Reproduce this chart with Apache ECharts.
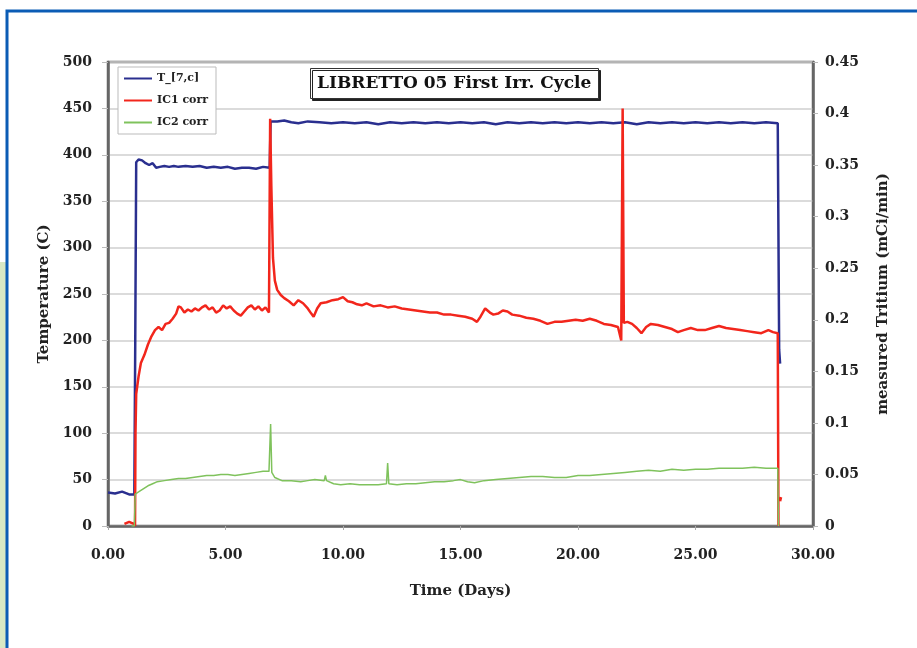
<!DOCTYPE html>
<html>
<head>
<meta charset="utf-8">
<script src="https://cdn.jsdelivr.net/npm/echarts@6/dist/echarts.min.js"></script>
<style>
  html, body { margin: 0; padding: 0; background: #fff; }
  #chart { width: 917px; height: 648px; }
</style>
</head>
<body>
<div id="chart"></div>
<script>
// values: [day, value]
const tempData = [
    [0, 36], [0.3, 35], [0.6, 37], [0.9, 34], [1.12, 34], [1.16, 200], [1.2, 392], [1.3, 395],
    [1.45, 394], [1.6, 391], [1.75, 389], [1.9, 391], [2.05, 386], [2.2, 387], [2.4, 388],
    [2.6, 387], [2.8, 388], [3.0, 387], [3.3, 388], [3.6, 387], [3.9, 388], [4.2, 386],
    [4.5, 387], [4.8, 386], [5.1, 387], [5.4, 385], [5.7, 386], [6.0, 386], [6.3, 385],
    [6.6, 387], [6.88, 386], [6.92, 436], [7.0, 437], [7.2, 436], [7.5, 437], [7.8, 435],
    [8.1, 434], [8.5, 436], [9.0, 435], [9.5, 434], [10.0, 435], [10.5, 434], [11.0, 435],
    [11.5, 433], [12.0, 435], [12.5, 434], [13.0, 435], [13.5, 434], [14.0, 435], [14.5, 434],
    [15.0, 435], [15.5, 434], [16.0, 435], [16.5, 433], [17.0, 435], [17.5, 434], [18.0, 435],
    [18.5, 434], [19.0, 435], [19.5, 434], [20.0, 435], [20.5, 434], [21.0, 435], [21.5, 434],
    [22.0, 435], [22.5, 433], [23.0, 435], [23.5, 434], [24.0, 435], [24.5, 434], [25.0, 435],
    [25.5, 434], [26.0, 435], [26.5, 434], [27.0, 435], [27.5, 434], [28.0, 435], [28.5, 434],
    [28.53, 434], [28.56, 190], [28.6, 175]
];

const ic1Data = [
    [0.7, 0.002], [0.9, 0.004], [1.1, 0.002], [1.15, 0.0], [1.17, 0.09], [1.2, 0.128], [1.3, 0.145],
    [1.4, 0.158], [1.55, 0.166], [1.7, 0.176], [1.85, 0.184], [2.0, 0.19], [2.15, 0.193], [2.3, 0.19],
    [2.45, 0.196], [2.6, 0.197], [2.75, 0.201], [2.9, 0.206], [3.0, 0.213], [3.1, 0.212], [3.25, 0.207],
    [3.4, 0.21], [3.55, 0.208], [3.7, 0.211], [3.85, 0.209], [4.0, 0.212], [4.15, 0.214], [4.3, 0.21],
    [4.45, 0.212], [4.6, 0.207], [4.75, 0.209], [4.9, 0.214], [5.05, 0.211], [5.2, 0.213], [5.35, 0.209],
    [5.5, 0.206], [5.65, 0.204], [5.8, 0.208], [5.95, 0.212], [6.1, 0.214], [6.25, 0.21], [6.4, 0.213],
    [6.55, 0.209], [6.7, 0.212], [6.85, 0.207], [6.9, 0.395], [6.95, 0.33], [7.02, 0.26], [7.1, 0.238],
    [7.2, 0.229], [7.35, 0.224], [7.5, 0.221], [7.7, 0.218], [7.9, 0.214], [8.1, 0.219], [8.3, 0.216],
    [8.5, 0.211], [8.65, 0.206], [8.75, 0.203], [8.9, 0.211], [9.05, 0.216], [9.3, 0.217], [9.55, 0.219],
    [9.8, 0.22], [10.0, 0.222], [10.2, 0.218], [10.4, 0.217], [10.6, 0.215], [10.8, 0.214], [11.0, 0.216],
    [11.3, 0.213], [11.6, 0.214], [11.9, 0.212], [12.2, 0.213], [12.5, 0.211], [12.8, 0.21], [13.1, 0.209],
    [13.4, 0.208], [13.7, 0.207], [14.0, 0.207], [14.3, 0.205], [14.6, 0.205], [14.9, 0.204], [15.2, 0.203],
    [15.5, 0.201], [15.7, 0.198], [15.85, 0.203], [16.05, 0.211], [16.25, 0.207], [16.4, 0.205], [16.6, 0.206],
    [16.8, 0.209], [17.0, 0.208], [17.2, 0.205], [17.5, 0.204], [17.8, 0.202], [18.1, 0.201], [18.4, 0.199],
    [18.7, 0.196], [19.0, 0.198], [19.3, 0.198], [19.6, 0.199], [19.9, 0.2], [20.2, 0.199], [20.5, 0.201],
    [20.8, 0.199], [21.1, 0.196], [21.4, 0.195], [21.7, 0.193], [21.84, 0.18], [21.9, 0.405], [21.95, 0.197],
    [22.1, 0.198], [22.3, 0.196], [22.5, 0.192], [22.7, 0.187], [22.9, 0.193], [23.1, 0.196], [23.4, 0.195],
    [23.7, 0.193], [24.0, 0.191], [24.25, 0.188], [24.5, 0.19], [24.8, 0.192], [25.1, 0.19], [25.4, 0.19],
    [25.7, 0.192], [26.0, 0.194], [26.3, 0.192], [26.6, 0.191], [26.9, 0.19], [27.2, 0.189], [27.5, 0.188],
    [27.8, 0.187], [28.1, 0.19], [28.3, 0.188], [28.5, 0.187], [28.53, 0.0], [28.56, null],
    [28.6, 0.024], [28.64, 0.028]
];

const ic2Data = [
    [1.0, 0.0], [1.12, 0.0], [1.16, 0.031], [1.3, 0.033], [1.5, 0.036], [1.7, 0.039], [1.9, 0.041],
    [2.1, 0.043], [2.4, 0.044], [2.7, 0.045], [3.0, 0.046], [3.3, 0.046], [3.6, 0.047], [3.9, 0.048],
    [4.2, 0.049], [4.5, 0.049], [4.8, 0.05], [5.1, 0.05], [5.4, 0.049], [5.7, 0.05], [6.0, 0.051],
    [6.3, 0.052], [6.6, 0.053], [6.85, 0.053], [6.92, 0.099], [6.97, 0.052], [7.1, 0.047], [7.4, 0.044],
    [7.8, 0.044], [8.2, 0.043], [8.5, 0.044], [8.8, 0.045], [9.2, 0.044], [9.25, 0.049], [9.3, 0.044],
    [9.6, 0.041], [9.9, 0.04], [10.3, 0.041], [10.7, 0.04], [11.1, 0.04], [11.5, 0.04], [11.85, 0.041],
    [11.9, 0.061], [11.95, 0.041], [12.3, 0.04], [12.7, 0.041], [13.1, 0.041], [13.5, 0.042], [13.9, 0.043],
    [14.3, 0.043], [14.7, 0.044], [15.0, 0.045], [15.3, 0.043], [15.6, 0.042], [16.0, 0.044], [16.5, 0.045],
    [17.0, 0.046], [17.5, 0.047], [18.0, 0.048], [18.5, 0.048], [19.0, 0.047], [19.5, 0.047], [20.0, 0.049],
    [20.5, 0.049], [21.0, 0.05], [21.5, 0.051], [22.0, 0.052], [22.5, 0.053], [23.0, 0.054], [23.5, 0.053],
    [24.0, 0.055], [24.5, 0.054], [25.0, 0.055], [25.5, 0.055], [26.0, 0.056], [26.5, 0.056], [27.0, 0.056],
    [27.5, 0.057], [28.0, 0.056], [28.5, 0.056], [28.53, 0.0]
];

const seriesNames = ['T_[7,c]', 'IC1 corr', 'IC2 corr'];
const seriesColors = ['#2a2f8f', '#f2261c', '#7fc25c'];

const chart = echarts.init(document.getElementById('chart'));

const labelFont = {
    fontFamily: 'DejaVu Serif',
    fontWeight: 'bold',
    fontSize: 14,
    color: '#222'
};

let option = {
    animation: false,
    backgroundColor: '#fff',
    title: {
        text: 'LIBRETTO 05 First Irr. Cycle',
        left: 310,
        top: 68,
        padding: [7, 7, 7, 7],
        backgroundColor: '#fff',
        borderColor: '#333',
        borderWidth: 1,
        shadowColor: '#222',
        shadowOffsetX: 2,
        shadowOffsetY: 2,
        shadowBlur: 0,
        textStyle: {
            fontFamily: 'DejaVu Serif',
            fontWeight: 'bold',
            fontSize: 17,
            color: '#111'
        }
    },
    legend: {
        orient: 'vertical',
        left: 118,
        top: 67,
        padding: [6, 8, 6, 6],
        itemGap: 11,
        itemWidth: 28,
        itemHeight: 2,
        icon: 'rect',
        backgroundColor: '#fff',
        borderColor: '#bbb',
        borderWidth: 1,
        data: seriesNames,
        textStyle: {
            fontFamily: 'DejaVu Serif',
            fontWeight: 'bold',
            fontSize: 11,
            color: '#222'
        }
    },
    grid: {
        left: 108,
        right: 104,
        top: 62,
        bottom: 122,
        show: true,
        borderColor: '#666',
        borderWidth: 2.5
    },
    xAxis: {
        type: 'value',
        min: 0,
        max: 30,
        interval: 5,
        name: 'Time (Days)',
        nameLocation: 'middle',
        nameGap: 58,
        nameTextStyle: Object.assign({}, labelFont, { fontSize: 15 }),
        axisLine: { show: true, lineStyle: { color: '#666', width: 2.5 } },
        axisTick: { show: true, length: 4, lineStyle: { color: '#aaa' } },
        splitLine: { show: false },
        axisLabel: Object.assign({}, labelFont, {
            margin: 22,
            formatter: v => v.toFixed(2)
        })
    },
    yAxis: [{
        type: 'value',
        min: 0,
        max: 500,
        interval: 50,
        name: 'Temperature (C)',
        nameLocation: 'middle',
        nameGap: 56,
        nameTextStyle: Object.assign({}, labelFont, { fontSize: 15 }),
        axisLine: { show: true, lineStyle: { color: '#666', width: 2.5 } },
        axisTick: { show: true, length: 6, lineStyle: { color: '#bbb' } },
        splitLine: { show: true, lineStyle: { color: '#cfcfcf', width: 1.5 } },
        axisLabel: Object.assign({}, labelFont, { margin: 16 })
    }, {
        type: 'value',
        min: 0,
        max: 0.45,
        interval: 0.05,
        name: 'measured Tritium (mCi/min)',
        nameLocation: 'middle',
        nameGap: 63,
        nameTextStyle: Object.assign({}, labelFont, { fontSize: 15 }),
        axisLine: { show: true, lineStyle: { color: '#666', width: 2.5 } },
        axisTick: { show: true, length: 5, lineStyle: { color: '#bbb' } },
        splitLine: { show: false },
        axisLabel: Object.assign({}, labelFont, { margin: 12 })
    }],
    series: [{
        name: seriesNames[0],
        type: 'line',
        yAxisIndex: 0,
        data: tempData,
        showSymbol: false,
        color: seriesColors[0],
        lineStyle: { width: 2.5, color: seriesColors[0] }
    }, {
        name: seriesNames[1],
        type: 'line',
        yAxisIndex: 1,
        data: ic1Data,
        showSymbol: false,
        connectNulls: false,
        color: seriesColors[1],
        lineStyle: { width: 2.5, color: seriesColors[1] }
    }, {
        name: seriesNames[2],
        type: 'line',
        yAxisIndex: 1,
        data: ic2Data,
        showSymbol: false,
        color: seriesColors[2],
        lineStyle: { width: 1.5, color: seriesColors[2] }
    }],
    graphic: [{
        type: 'rect',
        silent: true,
        z: -10,
        shape: { x: 0, y: 262, width: 6, height: 386 },
        style: { fill: '#d8e8c4' }
    }, {
        type: 'rect',
        silent: true,
        z: -10,
        shape: { x: 7, y: 11, width: 920, height: 650 },
        style: { fill: 'none', stroke: '#0b5cb5', lineWidth: 3 }
    }]
};

if (option && typeof option === 'object') {
    chart.setOption(option);
}
</script>
</body>
</html>
